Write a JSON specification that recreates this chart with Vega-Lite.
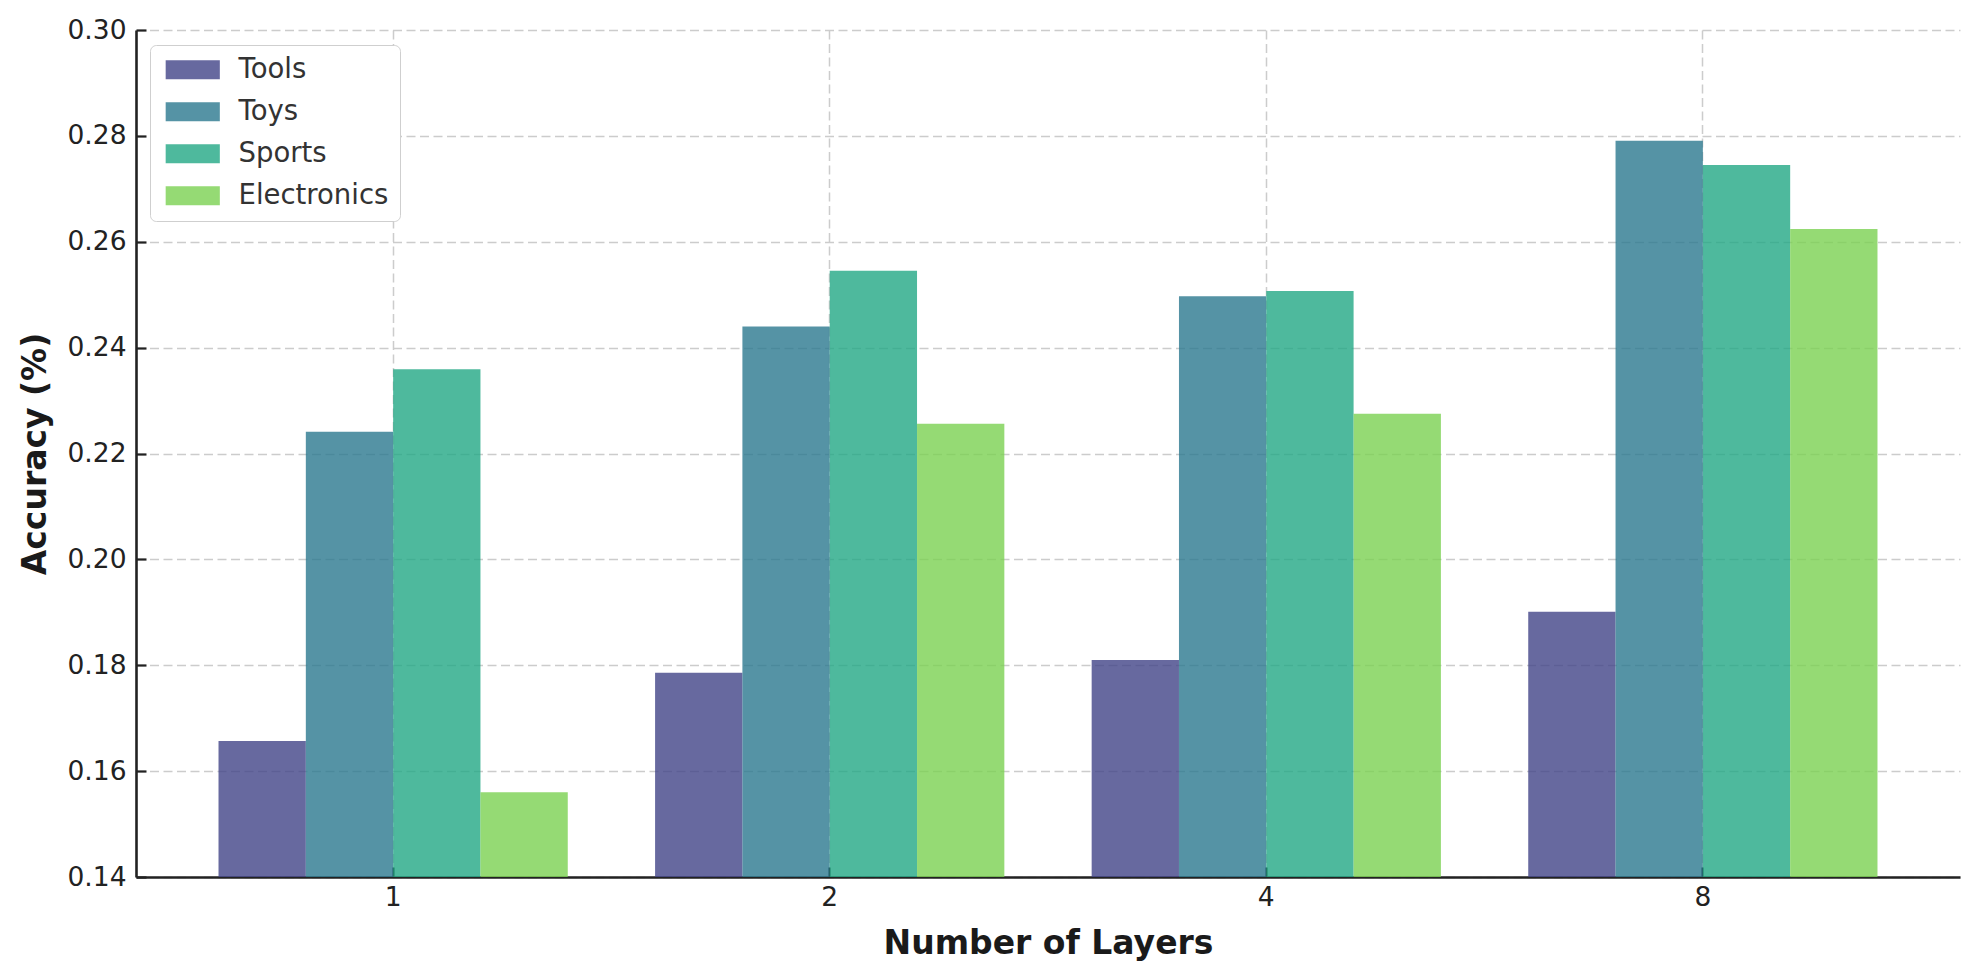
{
  "$schema": "https://vega.github.io/schema/vega-lite/v6.json",
  "width": 1824,
  "height": 847,
  "autosize": {"type": "none"},
  "padding": {"left": 136, "top": 30, "right": 19, "bottom": 103},
  "background": "white",
  "config": {
    "view": {"stroke": null},
    "font": "DejaVu Sans",
    "axis": {
      "labelFont": "DejaVu Sans",
      "labelFontSize": 26.5,
      "labelColor": "#222222",
      "titleFont": "DejaVu Sans",
      "titleFontSize": 33,
      "titleFontWeight": "bold",
      "titleColor": "#1a1a1a",
      "domainColor": "#222222",
      "domainWidth": 2.6,
      "tickColor": "#222222",
      "tickWidth": 2.2,
      "tickSize": -10,
      "gridColor": "#cccccc",
      "gridDash": [9, 4.5],
      "gridWidth": 1.5
    }
  },
  "data": {
    "values": [
      {"layers": "1", "category": "Tools", "accuracy": 0.1657},
      {"layers": "1", "category": "Toys", "accuracy": 0.2241},
      {"layers": "1", "category": "Sports", "accuracy": 0.2359},
      {"layers": "1", "category": "Electronics", "accuracy": 0.1560},
      {"layers": "2", "category": "Tools", "accuracy": 0.1786},
      {"layers": "2", "category": "Toys", "accuracy": 0.2440},
      {"layers": "2", "category": "Sports", "accuracy": 0.2545},
      {"layers": "2", "category": "Electronics", "accuracy": 0.2256},
      {"layers": "4", "category": "Tools", "accuracy": 0.1810},
      {"layers": "4", "category": "Toys", "accuracy": 0.2497},
      {"layers": "4", "category": "Sports", "accuracy": 0.2507},
      {"layers": "4", "category": "Electronics", "accuracy": 0.2275},
      {"layers": "8", "category": "Tools", "accuracy": 0.1901},
      {"layers": "8", "category": "Toys", "accuracy": 0.2791},
      {"layers": "8", "category": "Sports", "accuracy": 0.2745},
      {"layers": "8", "category": "Electronics", "accuracy": 0.2624}
    ]
  },
  "mark": {"type": "bar", "clip": true, "opacity": 0.8},
  "encoding": {
    "x": {
      "field": "layers",
      "type": "nominal",
      "sort": ["1", "2", "4", "8"],
      "scale": {"paddingInner": 0.2, "paddingOuter": 0.189},
      "axis": {
        "title": "Number of Layers",
        "labelAngle": 0,
        "bandPosition": 0.5,
        "grid": true,
        "labelPadding": 17,
        "titlePadding": 17
      }
    },
    "xOffset": {
      "field": "category",
      "type": "nominal",
      "sort": ["Tools", "Toys", "Sports", "Electronics"],
      "scale": {"paddingInner": 0, "paddingOuter": 0}
    },
    "y": {
      "field": "accuracy",
      "type": "quantitative",
      "scale": {"domain": [0.14, 0.30], "zero": false, "nice": false},
      "axis": {
        "title": "Accuracy (%)",
        "values": [0.14, 0.16, 0.18, 0.20, 0.22, 0.24, 0.26, 0.28, 0.30],
        "format": ".2f",
        "grid": true,
        "labelPadding": 20,
        "titlePadding": 14
      }
    },
    "color": {
      "field": "category",
      "type": "nominal",
      "sort": ["Tools", "Toys", "Sports", "Electronics"],
      "scale": {
        "domain": ["Tools", "Toys", "Sports", "Electronics"],
        "range": ["#414487", "#2a788e", "#22a884", "#7ad151"]
      },
      "legend": {
        "title": null,
        "orient": "none",
        "legendX": 14,
        "legendY": 15,
        "symbolType": "M-2.85,-1H2.85V1H-2.85Z",
        "symbolSize": 361,
        "symbolOffset": 18,
        "symbolOpacity": 0.8,
        "symbolStrokeWidth": 0,
        "labelFont": "DejaVu Sans",
        "labelFontSize": 27.5,
        "labelColor": "#333333",
        "labelOffset": 32,
        "rowPadding": 13,
        "padding": 11,
        "fillColor": "white",
        "strokeColor": "#cfcfcf",
        "cornerRadius": 6
      }
    }
  }
}
